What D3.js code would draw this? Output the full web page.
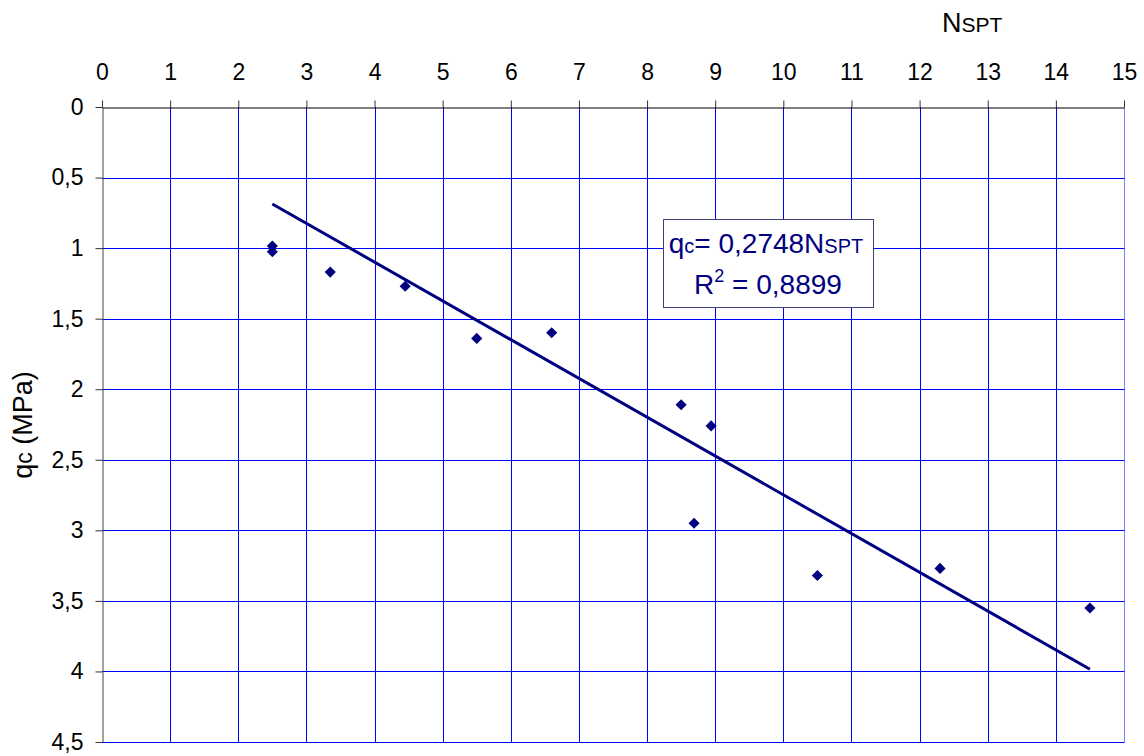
<!DOCTYPE html>
<html>
<head>
<meta charset="utf-8">
<script src="https://cdn.jsdelivr.net/npm/d3@7"></script>
<style>
  html, body { margin: 0; padding: 0; background: #fff; }
  svg { display: block; font-family: "Liberation Sans", Arial, sans-serif; }
</style>
</head>
<body>
<svg id="chart" width="1144" height="756"></svg>
<script>
// ---- data ----
const nsptValues = [2.5, 2.5, 3.35, 4.45, 5.5, 6.6, 8.5, 8.94, 8.69, 10.5, 12.3, 14.5];
const qcValues   = [0.985, 1.025, 1.17, 1.27, 1.64, 1.6, 2.11, 2.26, 2.95, 3.32, 3.27, 3.55];
const xTicks = [0,1,2,3,4,5,6,7,8,9,10,11,12,13,14,15];
const yTicks = [0,0.5,1,1.5,2,2.5,3,3.5,4,4.5];
const trendSlope = 0.2748;
const trendXRange = [2.5, 14.5];
const rSquared = "0,8899";

// ---- layout ----
const svg = d3.select("#chart");
const x = d3.scaleLinear().domain([0, 15]).range([102, 1124]);
const y = d3.scaleLinear().domain([0, 4.5]).range([107, 742]);
const snap = v => Math.round(v) + 0.5;
const navy = "#000080";
const grid = "#0000ff";

// gridlines
svg.append("g").selectAll("line.v").data(xTicks.filter(d => d > 0)).join("line")
  .attr("x1", d => snap(x(d))).attr("x2", d => snap(x(d)))
  .attr("y1", y(0)).attr("y2", snap(y(4.5)))
  .attr("stroke", d => d === 15 ? "#7f7fff" : grid).attr("stroke-width", 1);
svg.append("g").selectAll("line.h").data(yTicks.filter(d => d > 0)).join("line")
  .attr("x1", x(0)).attr("x2", snap(x(15)))
  .attr("y1", d => snap(y(d))).attr("y2", d => snap(y(d)))
  .attr("stroke", grid).attr("stroke-width", 1);

// axes
const fmt = d => String(d).replace(".", ",");
const topAxis = svg.append("g").attr("transform", `translate(0,${snap(y(0))})`)
  .call(d3.axisTop(x).tickValues(xTicks).tickSize(7).tickPadding(21).tickFormat(d3.format("d")).tickSizeOuter(0));
const leftAxis = svg.append("g").attr("transform", `translate(${snap(x(0))},0)`)
  .call(d3.axisLeft(y).tickValues(yTicks).tickSize(7).tickPadding(12).tickFormat(fmt).tickSizeOuter(0));
[topAxis, leftAxis].forEach(g => {
  g.selectAll("path.domain").attr("stroke", "#000").attr("stroke-width", 1);
  g.selectAll(".tick line").attr("stroke", "#333");
  g.selectAll(".tick text").attr("fill", "#000").style("font-size", "23px")
    .style("font-family", "'Liberation Sans', Arial, sans-serif");
});
leftAxis.selectAll("path.domain").attr("stroke", "#444");

// trend line
svg.append("line")
  .attr("x1", x(trendXRange[0])).attr("y1", y(trendSlope * trendXRange[0]))
  .attr("x2", x(trendXRange[1])).attr("y2", y(trendSlope * trendXRange[1]))
  .attr("stroke", navy).attr("stroke-width", 3);

// markers
const data = nsptValues.map((v, i) => ({ n: v, q: qcValues[i] }));
svg.append("g").selectAll("path").data(data).join("path")
  .attr("transform", d => `translate(${x(d.n)},${y(d.q)}) rotate(45)`)
  .attr("d", d3.symbol().type(d3.symbolSquare).size(62))
  .attr("fill", navy);

// x axis title
const xt = svg.append("text").attr("x", 942).attr("y", 32).attr("fill", "#000");
xt.append("tspan").style("font-size", "27px").text("N");
xt.append("tspan").style("font-size", "21px").text("SPT");

// y axis title
const yt = svg.append("text")
  .attr("transform", "translate(32,425) rotate(-90)")
  .attr("text-anchor", "middle").attr("fill", "#000").style("font-size", "27px");
yt.append("tspan").text("q");
yt.append("tspan").style("font-size", "23px").text("c");
yt.append("tspan").text(" (MPa)");

// equation box
svg.append("rect").attr("x", 663.5).attr("y", 219.5).attr("width", 210).attr("height", 88)
  .attr("fill", "#fff").attr("stroke", "#40407a").attr("stroke-width", 1);
const eq1 = svg.append("text").attr("x", 766).attr("y", 253)
  .attr("text-anchor", "middle").attr("fill", navy).style("font-size", "28px");
eq1.append("tspan").text("q");
eq1.append("tspan").style("font-size", "20px").text("c");
eq1.append("tspan").text("= " + String(trendSlope).replace(".", ",") + "N");
eq1.append("tspan").style("font-size", "20px").text("SPT");
const eq2 = svg.append("text").attr("x", 768).attr("y", 294)
  .attr("text-anchor", "middle").attr("fill", navy).style("font-size", "28px");
eq2.append("tspan").text("R");
eq2.append("tspan").style("font-size", "18px").attr("dy", -12).text("2");
eq2.append("tspan").attr("dy", 12).text(" = " + rSquared);
</script>
</body>
</html>
